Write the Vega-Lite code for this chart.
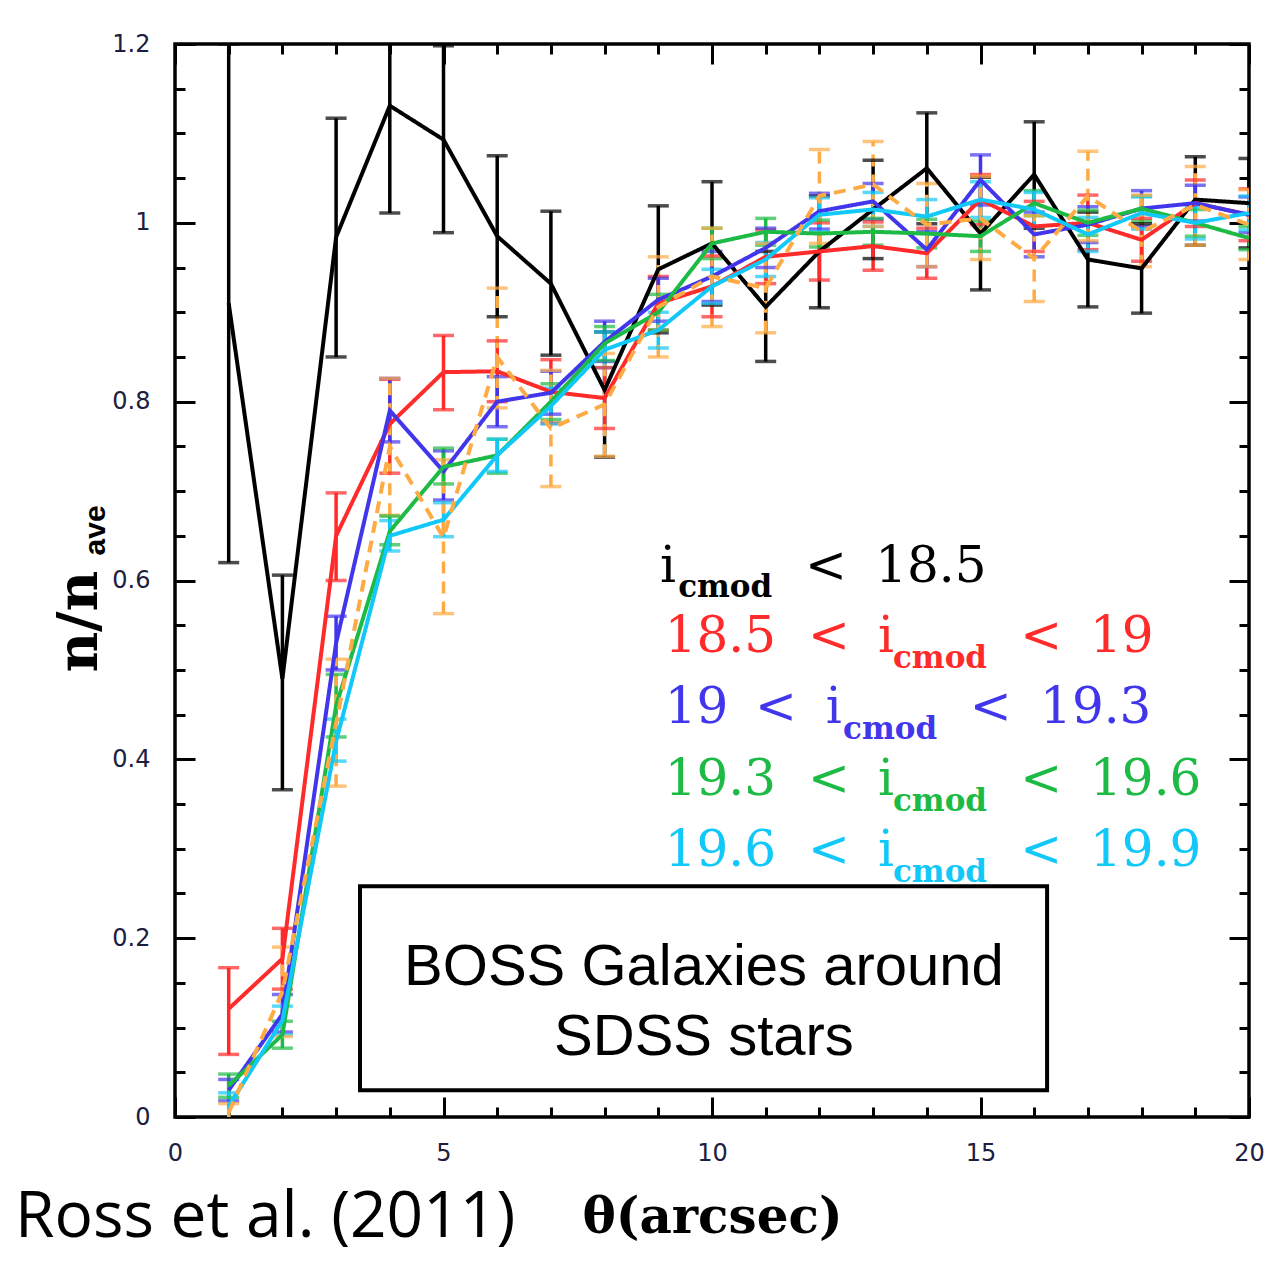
{
  "$schema": "https://vega.github.io/schema/vega-lite/v6.json",
  "width": 1074,
  "height": 1073,
  "autosize": "none",
  "padding": {"left": 175, "top": 44, "right": 23, "bottom": 154},
  "background": "white",
  "config": {
    "view": {"stroke": "black", "strokeWidth": 3.5},
    "axis": {"grid": false, "domain": false, "tickColor": "black", "tickWidth": 3, "labelColor": "#1c2040", "labelFont": "DejaVu Sans", "labelFontSize": 24, "labelFlush": false}
  },
  "resolve": {"axis": {"x": "independent", "y": "independent"}},
  "datasets": {
    "pts": [
      {"s": "k", "x": 1, "y": 0.91, "lo": 0.62, "hi": 1.2},
      {"s": "k", "x": 2, "y": 0.49, "lo": 0.366, "hi": 0.606},
      {"s": "k", "x": 3, "y": 0.984, "lo": 0.85, "hi": 1.117},
      {"s": "k", "x": 4, "y": 1.131, "lo": 1.011, "hi": 1.25},
      {"s": "k", "x": 5, "y": 1.093, "lo": 0.989, "hi": 1.198},
      {"s": "k", "x": 6, "y": 0.985, "lo": 0.895, "hi": 1.075},
      {"s": "k", "x": 7, "y": 0.932, "lo": 0.852, "hi": 1.013},
      {"s": "k", "x": 8, "y": 0.813, "lo": 0.738, "hi": 0.878},
      {"s": "k", "x": 9, "y": 0.948, "lo": 0.877, "hi": 1.019},
      {"s": "k", "x": 10, "y": 0.977, "lo": 0.908, "hi": 1.046},
      {"s": "k", "x": 11, "y": 0.906, "lo": 0.845, "hi": 0.968},
      {"s": "k", "x": 12, "y": 0.968, "lo": 0.905, "hi": 1.03},
      {"s": "k", "x": 13, "y": 1.015, "lo": 0.96, "hi": 1.07},
      {"s": "k", "x": 14, "y": 1.061, "lo": 0.999, "hi": 1.123},
      {"s": "k", "x": 15, "y": 0.988, "lo": 0.925, "hi": 1.051},
      {"s": "k", "x": 16, "y": 1.054, "lo": 0.994, "hi": 1.113},
      {"s": "k", "x": 17, "y": 0.959, "lo": 0.906, "hi": 1.012},
      {"s": "k", "x": 18, "y": 0.949, "lo": 0.899, "hi": 0.999},
      {"s": "k", "x": 19, "y": 1.026, "lo": 0.975, "hi": 1.074},
      {"s": "k", "x": 20, "y": 1.022, "lo": 0.972, "hi": 1.072},
      {"s": "r", "x": 1, "y": 0.121, "lo": 0.07, "hi": 0.167},
      {"s": "r", "x": 2, "y": 0.177, "lo": 0.143, "hi": 0.211},
      {"s": "r", "x": 3, "y": 0.65, "lo": 0.6, "hi": 0.698},
      {"s": "r", "x": 4, "y": 0.775, "lo": 0.72, "hi": 0.825},
      {"s": "r", "x": 5, "y": 0.833, "lo": 0.791, "hi": 0.874},
      {"s": "r", "x": 6, "y": 0.834, "lo": 0.8, "hi": 0.868},
      {"s": "r", "x": 7, "y": 0.811, "lo": 0.776, "hi": 0.847},
      {"s": "r", "x": 8, "y": 0.804, "lo": 0.77, "hi": 0.838},
      {"s": "r", "x": 9, "y": 0.91, "lo": 0.88, "hi": 0.94},
      {"s": "r", "x": 10, "y": 0.929, "lo": 0.895, "hi": 0.963},
      {"s": "r", "x": 11, "y": 0.962, "lo": 0.932, "hi": 0.992},
      {"s": "r", "x": 12, "y": 0.968, "lo": 0.936, "hi": 1.0},
      {"s": "r", "x": 13, "y": 0.974, "lo": 0.947, "hi": 1.001},
      {"s": "r", "x": 14, "y": 0.966, "lo": 0.938, "hi": 0.994},
      {"s": "r", "x": 15, "y": 1.026, "lo": 0.998, "hi": 1.054},
      {"s": "r", "x": 16, "y": 0.996, "lo": 0.968, "hi": 1.024},
      {"s": "r", "x": 17, "y": 1.0, "lo": 0.97, "hi": 1.031},
      {"s": "r", "x": 18, "y": 0.981, "lo": 0.957, "hi": 1.005},
      {"s": "r", "x": 19, "y": 1.022, "lo": 0.996, "hi": 1.048},
      {"s": "r", "x": 20, "y": 1.009, "lo": 0.98, "hi": 1.038},
      {"s": "b", "x": 1, "y": 0.03, "lo": 0.018, "hi": 0.042},
      {"s": "b", "x": 2, "y": 0.115, "lo": 0.095, "hi": 0.137},
      {"s": "b", "x": 3, "y": 0.53, "lo": 0.5, "hi": 0.56},
      {"s": "b", "x": 4, "y": 0.79, "lo": 0.755, "hi": 0.826},
      {"s": "b", "x": 5, "y": 0.722, "lo": 0.69, "hi": 0.745},
      {"s": "b", "x": 6, "y": 0.8, "lo": 0.772, "hi": 0.828},
      {"s": "b", "x": 7, "y": 0.81, "lo": 0.786, "hi": 0.834},
      {"s": "b", "x": 8, "y": 0.867, "lo": 0.845, "hi": 0.89},
      {"s": "b", "x": 9, "y": 0.914, "lo": 0.89, "hi": 0.938},
      {"s": "b", "x": 10, "y": 0.94, "lo": 0.912, "hi": 0.968},
      {"s": "b", "x": 11, "y": 0.972, "lo": 0.95, "hi": 0.994},
      {"s": "b", "x": 12, "y": 1.013, "lo": 0.993, "hi": 1.033},
      {"s": "b", "x": 13, "y": 1.024, "lo": 1.004, "hi": 1.044},
      {"s": "b", "x": 14, "y": 0.97, "lo": 0.951, "hi": 0.99},
      {"s": "b", "x": 15, "y": 1.048, "lo": 1.02, "hi": 1.076},
      {"s": "b", "x": 16, "y": 0.987, "lo": 0.962, "hi": 1.012},
      {"s": "b", "x": 17, "y": 0.998, "lo": 0.978, "hi": 1.018},
      {"s": "b", "x": 18, "y": 1.016, "lo": 0.996, "hi": 1.036},
      {"s": "b", "x": 19, "y": 1.022, "lo": 1.002, "hi": 1.042},
      {"s": "b", "x": 20, "y": 1.009, "lo": 0.989, "hi": 1.029},
      {"s": "g", "x": 1, "y": 0.035, "lo": 0.022, "hi": 0.048},
      {"s": "g", "x": 2, "y": 0.092, "lo": 0.077, "hi": 0.107},
      {"s": "g", "x": 3, "y": 0.46, "lo": 0.425, "hi": 0.495},
      {"s": "g", "x": 4, "y": 0.655, "lo": 0.64, "hi": 0.672},
      {"s": "g", "x": 5, "y": 0.727, "lo": 0.708, "hi": 0.748},
      {"s": "g", "x": 6, "y": 0.74, "lo": 0.72, "hi": 0.758},
      {"s": "g", "x": 7, "y": 0.8, "lo": 0.78, "hi": 0.82},
      {"s": "g", "x": 8, "y": 0.865, "lo": 0.846, "hi": 0.884},
      {"s": "g", "x": 9, "y": 0.9, "lo": 0.88, "hi": 0.92},
      {"s": "g", "x": 10, "y": 0.977, "lo": 0.96, "hi": 0.994},
      {"s": "g", "x": 11, "y": 0.99, "lo": 0.975, "hi": 1.005},
      {"s": "g", "x": 12, "y": 0.988, "lo": 0.973, "hi": 1.003},
      {"s": "g", "x": 13, "y": 0.99, "lo": 0.975, "hi": 1.005},
      {"s": "g", "x": 14, "y": 0.988, "lo": 0.972, "hi": 1.004},
      {"s": "g", "x": 15, "y": 0.985, "lo": 0.968, "hi": 1.002},
      {"s": "g", "x": 16, "y": 1.022, "lo": 1.008, "hi": 1.036},
      {"s": "g", "x": 17, "y": 1.0, "lo": 0.986, "hi": 1.014},
      {"s": "g", "x": 18, "y": 1.016, "lo": 1.002, "hi": 1.03},
      {"s": "g", "x": 19, "y": 1.0, "lo": 0.985, "hi": 1.015},
      {"s": "g", "x": 20, "y": 0.983, "lo": 0.97, "hi": 0.996},
      {"s": "c", "x": 1, "y": 0.012, "lo": -0.003, "hi": 0.027},
      {"s": "c", "x": 2, "y": 0.108, "lo": 0.092, "hi": 0.124},
      {"s": "c", "x": 3, "y": 0.42, "lo": 0.398, "hi": 0.445},
      {"s": "c", "x": 4, "y": 0.65, "lo": 0.633, "hi": 0.667},
      {"s": "c", "x": 5, "y": 0.668, "lo": 0.649, "hi": 0.687},
      {"s": "c", "x": 6, "y": 0.74, "lo": 0.722, "hi": 0.758},
      {"s": "c", "x": 7, "y": 0.795, "lo": 0.775, "hi": 0.815},
      {"s": "c", "x": 8, "y": 0.858, "lo": 0.838, "hi": 0.878},
      {"s": "c", "x": 9, "y": 0.88, "lo": 0.86, "hi": 0.9},
      {"s": "c", "x": 10, "y": 0.929, "lo": 0.91, "hi": 0.948},
      {"s": "c", "x": 11, "y": 0.959, "lo": 0.94, "hi": 0.978},
      {"s": "c", "x": 12, "y": 1.009, "lo": 0.99, "hi": 1.028},
      {"s": "c", "x": 13, "y": 1.015, "lo": 0.996, "hi": 1.034},
      {"s": "c", "x": 14, "y": 1.007, "lo": 0.988, "hi": 1.026},
      {"s": "c", "x": 15, "y": 1.026, "lo": 1.006, "hi": 1.046},
      {"s": "c", "x": 16, "y": 1.015, "lo": 0.996, "hi": 1.034},
      {"s": "c", "x": 17, "y": 0.987, "lo": 0.968, "hi": 1.006},
      {"s": "c", "x": 18, "y": 1.011, "lo": 0.993, "hi": 1.029},
      {"s": "c", "x": 19, "y": 1.0, "lo": 0.982, "hi": 1.018},
      {"s": "c", "x": 20, "y": 1.011, "lo": 0.992, "hi": 1.03},
      {"s": "o", "x": 1, "y": 0.005, "lo": -0.005, "hi": 0.015},
      {"s": "o", "x": 2, "y": 0.14, "lo": 0.09, "hi": 0.19},
      {"s": "o", "x": 3, "y": 0.44, "lo": 0.37, "hi": 0.512},
      {"s": "o", "x": 4, "y": 0.75, "lo": 0.673, "hi": 0.826},
      {"s": "o", "x": 5, "y": 0.648, "lo": 0.563, "hi": 0.735},
      {"s": "o", "x": 6, "y": 0.85, "lo": 0.793, "hi": 0.927},
      {"s": "o", "x": 7, "y": 0.77, "lo": 0.705, "hi": 0.835},
      {"s": "o", "x": 8, "y": 0.797, "lo": 0.739, "hi": 0.854},
      {"s": "o", "x": 9, "y": 0.906, "lo": 0.85, "hi": 0.962},
      {"s": "o", "x": 10, "y": 0.94, "lo": 0.884, "hi": 0.994},
      {"s": "o", "x": 11, "y": 0.927, "lo": 0.877, "hi": 0.977},
      {"s": "o", "x": 12, "y": 1.03, "lo": 0.977, "hi": 1.082},
      {"s": "o", "x": 13, "y": 1.043, "lo": 0.996, "hi": 1.091},
      {"s": "o", "x": 14, "y": 0.998, "lo": 0.951, "hi": 1.044},
      {"s": "o", "x": 15, "y": 1.005, "lo": 0.959, "hi": 1.052},
      {"s": "o", "x": 16, "y": 0.96, "lo": 0.912, "hi": 1.008},
      {"s": "o", "x": 17, "y": 1.03, "lo": 0.98, "hi": 1.08},
      {"s": "o", "x": 18, "y": 0.99, "lo": 0.951, "hi": 1.031},
      {"s": "o", "x": 19, "y": 1.02, "lo": 0.975, "hi": 1.063},
      {"s": "o", "x": 20, "y": 0.998, "lo": 0.959, "hi": 1.037}
    ],
    "leg": [
      {"s": "k", "t": "i", "x": 9.03, "y": 0.598},
      {"s": "k", "t": "<", "x": 11.73, "y": 0.598},
      {"s": "k", "t": "18.5", "x": 13.04, "y": 0.598},
      {"s": "r", "t": "18.5", "x": 9.12, "y": 0.52},
      {"s": "r", "t": "<", "x": 11.79, "y": 0.52},
      {"s": "r", "t": "i", "x": 13.09, "y": 0.52},
      {"s": "r", "t": "<", "x": 15.74, "y": 0.52},
      {"s": "r", "t": "19", "x": 17.04, "y": 0.52},
      {"s": "b", "t": "19", "x": 9.12, "y": 0.441},
      {"s": "b", "t": "<", "x": 10.8, "y": 0.441},
      {"s": "b", "t": "i", "x": 12.12, "y": 0.441},
      {"s": "b", "t": "<", "x": 14.8, "y": 0.441},
      {"s": "b", "t": "19.3", "x": 16.11, "y": 0.441},
      {"s": "g", "t": "19.3", "x": 9.12, "y": 0.36},
      {"s": "g", "t": "<", "x": 11.79, "y": 0.36},
      {"s": "g", "t": "i", "x": 13.09, "y": 0.36},
      {"s": "g", "t": "<", "x": 15.74, "y": 0.36},
      {"s": "g", "t": "19.6", "x": 17.04, "y": 0.36},
      {"s": "c", "t": "19.6", "x": 9.12, "y": 0.281},
      {"s": "c", "t": "<", "x": 11.79, "y": 0.281},
      {"s": "c", "t": "i", "x": 13.09, "y": 0.281},
      {"s": "c", "t": "<", "x": 15.74, "y": 0.281},
      {"s": "c", "t": "19.9", "x": 17.04, "y": 0.281}
    ],
    "legsub": [
      {"s": "k", "t": "cmod", "x": 9.37, "y": 0.581},
      {"s": "r", "t": "cmod", "x": 13.37, "y": 0.502},
      {"s": "b", "t": "cmod", "x": 12.44, "y": 0.423},
      {"s": "g", "t": "cmod", "x": 13.37, "y": 0.342},
      {"s": "c", "t": "cmod", "x": 13.37, "y": 0.263}
    ],
    "box": [{"x": 3.445, "x2": 16.24, "y": 0.03, "y2": 0.258}],
    "boxtext": [
      {"t": "BOSS Galaxies around", "x": 9.85, "y": 0.148},
      {"t": "SDSS stars", "x": 9.85, "y": 0.069}
    ],
    "credit": [{"t": "Ross et al. (2011)", "x": -2.98, "y": -0.134}],
    "ytitle": [{"t": "n/n", "x": -1.45, "y": 0.497}],
    "ytitlesub": [{"t": "ave", "x": -1.3, "y": 0.628}]
  },
  "layer": [
    {
      "data": {"name": "pts"},
      "mark": {"type": "rule", "strokeWidth": 3.5, "clip": true},
      "encoding": {
        "x": {"field": "x", "type": "quantitative", "scale": {"domain": [0, 20], "nice": false, "zero": false},
          "axis": {"orient": "bottom", "values": [0, 5, 10, 15, 20], "labels": false, "tickSize": -20, "title": null}},
        "y": {"field": "lo", "type": "quantitative", "scale": {"domain": [0, 1.2], "nice": false, "zero": false},
          "axis": {"orient": "left", "values": [0, 0.2, 0.4, 0.6, 0.8, 1, 1.2], "labels": false, "tickSize": -20, "title": null}},
        "y2": {"field": "hi"},
        "color": {"field": "s", "type": "nominal", "scale": {"domain": ["k", "r", "b", "g", "c", "o"], "range": ["#000000", "#ff2a2a", "#4236ec", "#1dbb45", "#12c8f8", "#ffab45"]}, "legend": null},
        "strokeDash": {"field": "s", "type": "nominal", "scale": {"domain": ["k", "r", "b", "g", "c", "o"], "range": [[1, 0], [1, 0], [1, 0], [1, 0], [1, 0], [12, 8]]}, "legend": null}
      }
    },
    {
      "data": {"name": "pts"},
      "mark": {"type": "tick", "orient": "horizontal", "size": 21, "thickness": 3.5, "clip": true},
      "encoding": {
        "x": {"field": "x", "type": "quantitative",
          "axis": {"orient": "bottom", "values": [1,2,3,4,6,7,8,9,11,12,13,14,16,17,18,19], "labels": false, "tickSize": -10, "title": null}},
        "y": {"field": "lo", "type": "quantitative",
          "axis": {"orient": "left", "values": [0.05,0.1,0.15,0.25,0.3,0.35,0.45,0.5,0.55,0.65,0.7,0.75,0.85,0.9,0.95,1.05,1.1,1.15], "labels": false, "tickSize": -10, "title": null}},
        "color": {"field": "s", "type": "nominal", "legend": null}
      }
    },
    {
      "data": {"name": "pts"},
      "mark": {"type": "tick", "orient": "horizontal", "size": 21, "thickness": 3.5, "clip": true},
      "encoding": {
        "x": {"field": "x", "type": "quantitative",
          "axis": {"orient": "top", "values": [0, 5, 10, 15, 20], "labels": false, "tickSize": -20, "title": null}},
        "y": {"field": "hi", "type": "quantitative",
          "axis": {"orient": "right", "values": [0, 0.2, 0.4, 0.6, 0.8, 1, 1.2], "labels": false, "tickSize": -20, "title": null}},
        "color": {"field": "s", "type": "nominal", "legend": null}
      }
    },
    {
      "data": {"name": "pts"},
      "mark": {"type": "line", "strokeWidth": 4},
      "encoding": {
        "x": {"field": "x", "type": "quantitative",
          "axis": {"orient": "bottom", "values": [0, 5, 10, 15, 20], "ticks": false, "labelPadding": 24,
            "title": "θ(arcsec)", "titleFont": "DejaVu Serif", "titleFontWeight": "bold", "titleFontSize": 50, "titleColor": "black",
            "titleBaseline": "alphabetic", "titleY": 115}},
        "y": {"field": "y", "type": "quantitative",
          "axis": {"orient": "left", "values": [0, 0.2, 0.4, 0.6, 0.8, 1, 1.2], "ticks": false, "labelPadding": 25, "format": "~g", "title": null}},
        "color": {"field": "s", "type": "nominal", "legend": null},
        "strokeDash": {"field": "s", "type": "nominal", "legend": null}
      }
    },
    {
      "data": {"name": "leg"},
      "mark": {"type": "text", "font": "DejaVu Serif", "fontSize": 50, "align": "left", "baseline": "alphabetic"},
      "encoding": {
        "x": {"field": "x", "type": "quantitative", "axis": null},
        "y": {"field": "y", "type": "quantitative", "axis": null},
        "text": {"field": "t"},
        "color": {"field": "s", "type": "nominal", "legend": null}
      }
    },
    {
      "data": {"name": "legsub"},
      "mark": {"type": "text", "font": "DejaVu Serif", "fontWeight": "bold", "fontSize": 31, "align": "left", "baseline": "alphabetic"},
      "encoding": {
        "x": {"field": "x", "type": "quantitative", "axis": null},
        "y": {"field": "y", "type": "quantitative", "axis": null},
        "text": {"field": "t"},
        "color": {"field": "s", "type": "nominal", "legend": null}
      }
    },
    {
      "data": {"name": "box"},
      "mark": {"type": "rect", "fill": "white", "stroke": "black", "strokeWidth": 4},
      "encoding": {
        "x": {"field": "x", "type": "quantitative",
          "axis": {"orient": "top", "values": [1,2,3,4,6,7,8,9,11,12,13,14,16,17,18,19], "labels": false, "tickSize": -10, "title": null}},
        "x2": {"field": "x2"},
        "y": {"field": "y", "type": "quantitative",
          "axis": {"orient": "right", "values": [0.05,0.1,0.15,0.25,0.3,0.35,0.45,0.5,0.55,0.65,0.7,0.75,0.85,0.9,0.95,1.05,1.1,1.15], "labels": false, "tickSize": -10, "title": null}},
        "y2": {"field": "y2"}
      }
    },
    {
      "data": {"name": "boxtext"},
      "mark": {"type": "text", "font": "Liberation Sans", "fontSize": 58, "align": "center", "baseline": "alphabetic", "color": "black"},
      "encoding": {
        "x": {"field": "x", "type": "quantitative", "axis": null},
        "y": {"field": "y", "type": "quantitative", "axis": null},
        "text": {"field": "t"}
      }
    },
    {
      "data": {"name": "credit"},
      "mark": {"type": "text", "font": "Open Sans", "fontSize": 64, "align": "left", "baseline": "alphabetic", "color": "black"},
      "encoding": {
        "x": {"field": "x", "type": "quantitative", "axis": null},
        "y": {"field": "y", "type": "quantitative", "axis": null},
        "text": {"field": "t"}
      }
    },
    {
      "data": {"name": "ytitle"},
      "mark": {"type": "text", "font": "DejaVu Serif", "fontWeight": "bold", "fontSize": 56, "angle": 270, "align": "left", "baseline": "alphabetic", "color": "black"},
      "encoding": {
        "x": {"field": "x", "type": "quantitative", "axis": null},
        "y": {"field": "y", "type": "quantitative", "axis": null},
        "text": {"field": "t"}
      }
    },
    {
      "data": {"name": "ytitlesub"},
      "mark": {"type": "text", "font": "Liberation Sans", "fontWeight": "bold", "fontSize": 30, "angle": 270, "align": "left", "baseline": "alphabetic", "color": "black"},
      "encoding": {
        "x": {"field": "x", "type": "quantitative", "axis": null},
        "y": {"field": "y", "type": "quantitative", "axis": null},
        "text": {"field": "t"}
      }
    }
  ]
}
